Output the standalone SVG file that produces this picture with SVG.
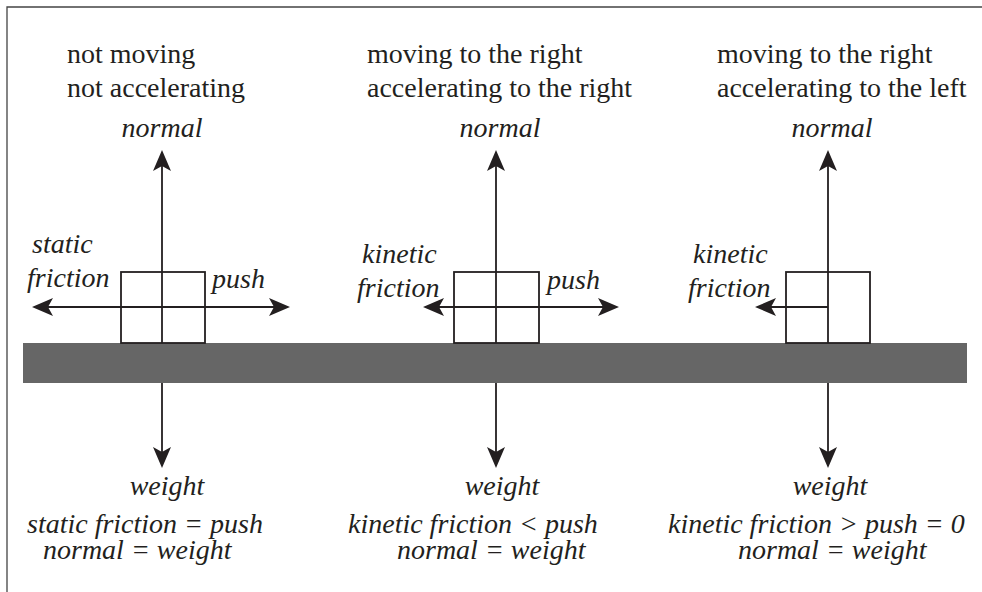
<svg xmlns="http://www.w3.org/2000/svg" width="982" height="592" viewBox="0 0 982 592">
<style>
.t{font-family:"Liberation Serif","Times New Roman",serif;font-size:28px;fill:#231f20}
.i{font-family:"Liberation Serif","Times New Roman",serif;font-size:28px;font-style:italic;fill:#231f20}
.box{fill:none;stroke:#231f20;stroke-width:1.8}
.arr{fill:none;stroke:#231f20;stroke-width:1.8}
</style>
<defs>
<marker id="ah" markerUnits="userSpaceOnUse" viewBox="-20 -10 25 20" refX="0" refY="0" markerWidth="25" markerHeight="20" orient="auto-start-reverse">
<path d="M3,0 L-18,-9 L-13,0 L-18,9 Z" fill="#231f20"/>
</marker>
</defs>
<rect width="982" height="592" fill="#fff"/>
<path d="M7,592 V7 H982" fill="none" stroke="#444" stroke-width="1.3"/>
<g id="ground"><rect x="23" y="343" width="944" height="40" fill="#666666"/></g>

<g id="block1">
<rect class="box" x="121" y="272" width="84" height="71"/>
<text class="t" x="67" y="63">not moving</text>
<text class="t" x="67" y="97">not accelerating</text>
<text class="i" x="162" y="137" text-anchor="middle">normal</text>
<text class="i" x="32" y="253">static</text>
<text class="i" x="27" y="287">friction</text>
<text class="i" x="212" y="288">push</text>
<text class="i" x="167" y="495" text-anchor="middle">weight</text>
<text class="i" x="27" y="533">static friction = push</text>
<text class="i" x="43" y="559">normal = weight</text>
</g>

<g id="block2">
<rect class="box" x="454" y="272" width="85" height="71"/>
<text class="t" x="367" y="63">moving to the right</text>
<text class="t" x="367" y="97">accelerating to the right</text>
<text class="i" x="500" y="137" text-anchor="middle">normal</text>
<text class="i" x="362" y="263">kinetic</text>
<text class="i" x="357" y="297">friction</text>
<text class="i" x="547" y="289">push</text>
<text class="i" x="502" y="495" text-anchor="middle">weight</text>
<text class="i" x="348" y="533">kinetic friction &lt; push</text>
<text class="i" x="397" y="559">normal = weight</text>
</g>

<g id="block3">
<rect class="box" x="786" y="272" width="84" height="71"/>
<text class="t" x="717" y="63">moving to the right</text>
<text class="t" x="717" y="97">accelerating to the left</text>
<text class="i" x="832" y="137" text-anchor="middle">normal</text>
<text class="i" x="693" y="263">kinetic</text>
<text class="i" x="688" y="297">friction</text>
<text class="i" x="830" y="495" text-anchor="middle">weight</text>
<text class="i" x="668" y="533">kinetic friction &gt; push = 0</text>
<text class="i" x="738" y="559">normal = weight</text>
</g>

<g id="connectors">
<line class="arr" x1="162" y1="343" x2="162" y2="153" marker-end="url(#ah)"/>
<line class="arr" x1="162" y1="383" x2="162" y2="465" marker-end="url(#ah)"/>
<line class="arr" x1="35" y1="307" x2="287" y2="307" marker-start="url(#ah)" marker-end="url(#ah)"/>
<line class="arr" x1="496" y1="343" x2="496" y2="153" marker-end="url(#ah)"/>
<line class="arr" x1="496" y1="383" x2="496" y2="465" marker-end="url(#ah)"/>
<line class="arr" x1="426" y1="307" x2="616" y2="307" marker-start="url(#ah)" marker-end="url(#ah)"/>
<line class="arr" x1="828" y1="343" x2="828" y2="153" marker-end="url(#ah)"/>
<line class="arr" x1="828" y1="383" x2="828" y2="465" marker-end="url(#ah)"/>
<line class="arr" x1="828" y1="307" x2="758" y2="307" marker-end="url(#ah)"/>
</g>
</svg>
